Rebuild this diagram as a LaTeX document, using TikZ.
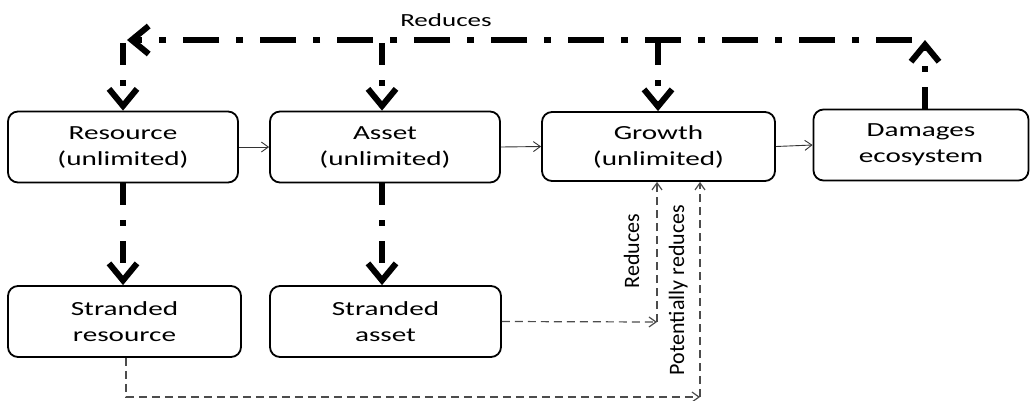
\documentclass[tikz,border=0pt]{standalone}
\usepackage{fontspec}
\setmainfont{Carlito}
\newfontfamily\wide{Carlito}[FakeStretch=1.46]
\usetikzlibrary{arrows.meta}
\begin{document}
\begin{tikzpicture}[x=1pt,y=-1pt,
  box/.style={draw, line width=1.8pt, rounded corners=10pt, align=center, inner sep=0pt,
    font=\wide\fontsize{20}{26}\selectfont},
  heavyh/.style={line width=6pt, dash pattern=on 36pt off 17pt on 7pt off 17pt},
  heavyv/.style={line width=6pt, dash pattern=on 22pt off 15pt on 6pt off 15pt},
  bigtip/.style={-{Straight Barb[length=17pt,width=28pt]}},
  thintip/.style={-{Straight Barb[length=7pt,width=10pt]}},
  thinline/.style={line width=0.9pt, draw=black!80},
  dashy/.style={line width=1.2pt, draw=black!70, dash pattern=on 8pt off 5pt},
  rotlabel/.style={rotate=90, anchor=base, inner sep=0pt, font=\fontsize{22}{26}\selectfont},
]
\useasboundingbox (0,0) rectangle (1030,400);

% boxes
\node[box, minimum width=230pt, minimum height=71pt] (res) at (123,147) {Resource\\(unlimited)};
\node[box, minimum width=230pt, minimum height=71pt] (ast) at (385,147) {Asset\\(unlimited)};
\node[box, minimum width=233pt, minimum height=69pt] (gro) at (658.5,146.5) {Growth\\(unlimited)};
\node[box, minimum width=215pt, minimum height=71pt] (dam) at (921,145) {Damages\\ecosystem};
\node[box, minimum width=233pt, minimum height=71pt] (sres) at (124.5,321.5) {Stranded\\resource};
\node[box, minimum width=231pt, minimum height=71pt] (sast) at (385.5,321.5) {Stranded\\asset};

% top label
\node[anchor=base, inner sep=0pt, font=\wide\fontsize{18.5}{22}\selectfont] (ltop) at (446,26) {Reduces};

% thin solid arrows
\draw[thinline, thintip] (res.east) -- (ast.west);
\draw[thinline, thintip] (ast.east) -- (gro.west);
\draw[thinline, thintip] (gro.east) -- (dam.west);

% heavy feedback loop
\coordinate (dtop) at (925,40);
\coordinate (hr) at (912,40);
\coordinate (hl) at (127,40);
\draw[heavyv, bigtip] (dam.north -| dtop) -- (dtop);
\draw[heavyh, bigtip] (hr) -- (hl);
\coordinate (k1) at (123,43);
\coordinate (k2) at (382,43);
\coordinate (k3) at (658,43);
\draw[heavyv, bigtip] (k1) -- (k1 |- res.north);
\draw[heavyv, bigtip] (k2) -- (k2 |- ast.north);
\draw[heavyv, bigtip] (k3) -- (k3 |- gro.north);

% heavy down arrows
\draw[heavyv, bigtip] (res.south -| k1) -- (k1 |- sres.north);
\draw[heavyv, bigtip] (ast.south -| k2) -- (k2 |- sast.north);

% dashed connectors
\coordinate (b1) at (126,397);
\coordinate (b2) at (700,397);
\coordinate (a2) at (657,322);
\draw[dashy, thintip] (sres.south -| b1) -- (b1) -- (b2);
\draw[dashy, thintip] (b2) -- (b2 |- gro.south);
\draw[dashy, thintip] (sast.east) -- (a2);
\draw[dashy, thintip] (a2) -- (a2 |- gro.south);

% rotated labels
\node[rotlabel] (lr) at (639,251) {Reduces};
\node[rotlabel] (lp) at (684,290) {Potentially reduces};
\end{tikzpicture}
\end{document}
